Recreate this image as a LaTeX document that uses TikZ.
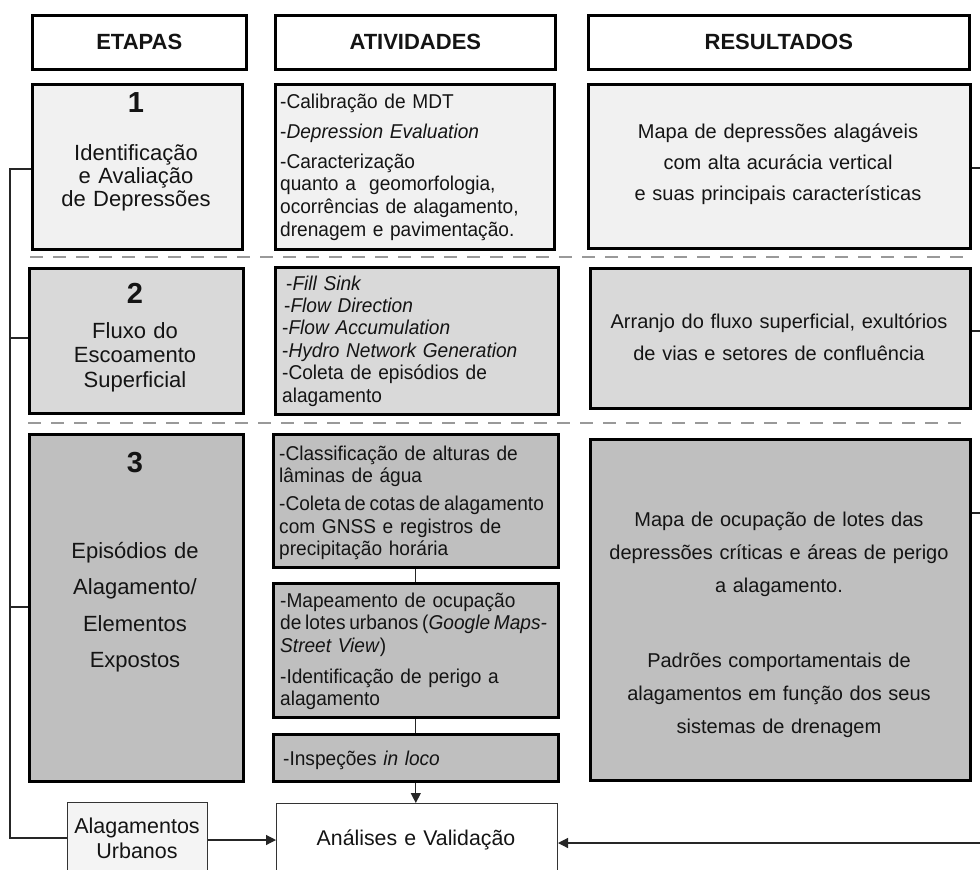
\documentclass[tikz,border=0pt]{standalone}
\usepackage{fontspec}
\setmainfont{Liberation Sans}
\newfontfamily\actfont[FakeStretch=0.955]{Liberation Sans}
\usetikzlibrary{arrows.meta}
\definecolor{fillA}{gray}{0.945}
\definecolor{fillB}{gray}{0.85}
\definecolor{fillC}{gray}{0.75}
\definecolor{fillU}{gray}{0.955}
\definecolor{inkc}{gray}{0.08}
\newcommand{\tightsp}[1]{{\spaceskip=0.19em #1}}
\begin{document}
\begin{tikzpicture}[x=1pt,y=-1pt,
  box/.style={draw=black, line width=2.6pt, inner sep=0pt, anchor=north west},
  thinbox/.style={draw=black!80, line width=1pt, inner sep=0pt, anchor=north west},
  hdr/.style={font=\fontsize{22}{24}\selectfont\bfseries, text=inkc},
  num/.style={font=\fontsize{29}{32}\selectfont\bfseries, anchor=base, inner sep=0pt, text=inkc},
  stagetxt/.style={align=center, anchor=base, text width=210pt, inner sep=0pt, text=inkc},
  acttxt/.style={align=left, anchor=base west, text width=300pt, inner sep=0pt, text=inkc},
  restxt/.style={align=center, anchor=base, text width=380pt, inner sep=0pt, text=inkc},
  conn/.style={line width=1.2pt, draw=black!85},
  arr/.style={conn, -{Triangle[length=10pt,width=10pt]}},
  sepline/.style={draw=black!40, line width=2pt, dash pattern=on 13pt off 10pt},
  actfnt/.style={font=\actfont\fontsize{20}{#1}\selectfont},
]
\useasboundingbox (0,0) rectangle (980,870);
\fill[white] (0,0) rectangle (980,870);
\begin{scope}
\clip (0,0) rectangle (980,870);

% headers
\node[box, minimum width=214pt, minimum height=54pt, hdr] (h1) at (31,14) {ETAPAS};
\node[box, minimum width=280pt, minimum height=54pt, hdr] (h2) at (274,14) {ATIVIDADES};
\node[box, minimum width=381pt, minimum height=54pt, hdr] (h3) at (587,14) {RESULTADOS};

% row 1
\node[box, fill=fillA, minimum width=210pt, minimum height=165pt] (e1) at (31,83) {};
\node[box, fill=fillA, minimum width=279pt, minimum height=165pt] (a1) at (274,83) {};
\node[box, fill=fillA, minimum width=382pt, minimum height=164pt] (r1) at (587,83) {};

% row 2
\node[box, fill=fillB, minimum width=214pt, minimum height=145pt] (e2) at (28,267) {};
\node[box, fill=fillB, minimum width=283pt, minimum height=147pt] (a2) at (274,266) {};
\node[box, fill=fillB, minimum width=380pt, minimum height=140pt] (r2) at (589,267) {};

% row 3
\node[box, fill=fillC, minimum width=214pt, minimum height=347pt] (e3) at (28,433) {};
\node[box, fill=fillC, minimum width=285pt, minimum height=133pt] (a3a) at (272,433) {};
\node[box, fill=fillC, minimum width=285pt, minimum height=134pt] (a3b) at (272,582) {};
\node[box, fill=fillC, minimum width=285pt, minimum height=47pt] (a3c) at (272,733) {};
\node[box, fill=fillC, minimum width=380pt, minimum height=341pt] (r3) at (589,438) {};

% bottom
\node[thinbox, fill=fillU, minimum width=140pt, minimum height=78pt] (au) at (67,802) {};
\node[thinbox, fill=white, minimum width=281pt, minimum height=77pt] (an) at (276,803) {};

% separators
\draw[sepline] (30,257) -- (968,257);
\draw[sepline] (28,423) -- (968,423);

% stage texts
\node[num] (n1) at (136,112) {1};
\node[stagetxt, font=\fontsize{22}{23}\selectfont] (t1) at (136,160) {Identificação\\e Avaliação\\de Depressões};
\node[num] (n2) at (135,303) {2};
\node[stagetxt, font=\fontsize{22}{24.5}\selectfont] (t2) at (135,338) {Fluxo do\\Escoamento\\Superficial};
\node[num] (n3) at (135,472) {3};
\node[stagetxt, font=\fontsize{22}{36.5}\selectfont] (t3) at (135,558) {Episódios de\\Alagamento/\\Elementos\\Expostos};

% activity texts
\node[acttxt, actfnt=22.7] (x1) at (280,108) {-Calibração de MDT\\[7.3pt]-\textit{Depression Evaluation}\\[7.3pt]-Caracterização\\quanto a\ \ geomorfologia,\\ocorrências de alagamento,\\drenagem e pavimentação.};
\node[acttxt, actfnt=22.4] (x2) at (282,290) {\hspace*{4pt}-\textit{Fill Sink}\\\hspace*{2pt}-\textit{Flow Direction}\\-\textit{Flow Accumulation}\\-\textit{Hydro Network Generation}\\-Coleta de episódios de\\alagamento};
\node[acttxt, actfnt=22.5] (x3a) at (279,460) {-Classificação de alturas de\\lâminas de água\\[5.5pt]\tightsp{-Coleta de cotas de alagamento}\\com GNSS e registros de\\precipitação horária};
\node[acttxt, actfnt=22.5] (x3b) at (280,607) {-Mapeamento de ocupação\\\tightsp{de lotes urbanos (\textit{Google Maps-}}\\\textit{Street View})\\[8.5pt]-Identificação de perigo a\\alagamento};
\node[acttxt, actfnt=22.5] (x3c) at (283,765) {-Inspeções \textit{in loco}};

% result texts
\node[restxt, font=\fontsize{20}{31}\selectfont] (y1) at (778,138) {Mapa de depressões alagáveis\\com alta acurácia vertical\\e suas principais características};
\node[restxt, font=\fontsize{20}{32}\selectfont] (y2) at (779,328) {Arranjo do fluxo superficial, exultórios\\de vias e setores de confluência};
\node[restxt, font=\fontsize{20}{33}\selectfont] (y3) at (779,526) {Mapa de ocupação de lotes das\\depressões críticas e áreas de perigo\\a alagamento.\\[42pt]Padrões comportamentais de\\alagamentos em função dos seus\\sistemas de drenagem};

% bottom texts
\node[stagetxt, text width=140pt, font=\fontsize{21.5}{25}\selectfont] (tu) at (137,833) {Alagamentos\\Urbanos};
\node[stagetxt, text width=280pt, font=\fontsize{21.3}{24}\selectfont] (tn) at (416,845) {Análises e Validação};

% left bus
\coordinate (L1) at (10,169);
\coordinate (L2) at (10,338);
\coordinate (L3) at (10,607);
\coordinate (L4) at (10,838);
\draw[conn] (L1 -| e1.west) -- (L1) -- (L4) -- (L4 -| au.west);
\draw[conn] (L2) -- (L2 -| e2.west);
\draw[conn] (L3) -- (L3 -| e3.west);
\coordinate (B1) at (0,840);
\draw[arr] (B1 -| au.east) -- (B1 -| an.west);

% right stubs
\coordinate (R1) at (981,168);
\coordinate (R2) at (981,331);
\coordinate (R3) at (981,513);
\coordinate (R4) at (981,843);
\draw[conn] (R1 -| r1.east) -- (R1);
\draw[conn] (R2 -| r2.east) -- (R2);
\draw[conn] (R3 -| r3.east) -- (R3);
\draw[arr] (R4) -- (R4 -| an.east);

% activity chain
\draw[conn] (a3a.south) -- (a3a.south |- a3b.north);
\draw[conn] (a3b.south) -- (a3b.south |- a3c.north);
\draw[arr] (a3c.south) -- (a3c.south |- an.north);
\end{scope}
\end{tikzpicture}
\end{document}
